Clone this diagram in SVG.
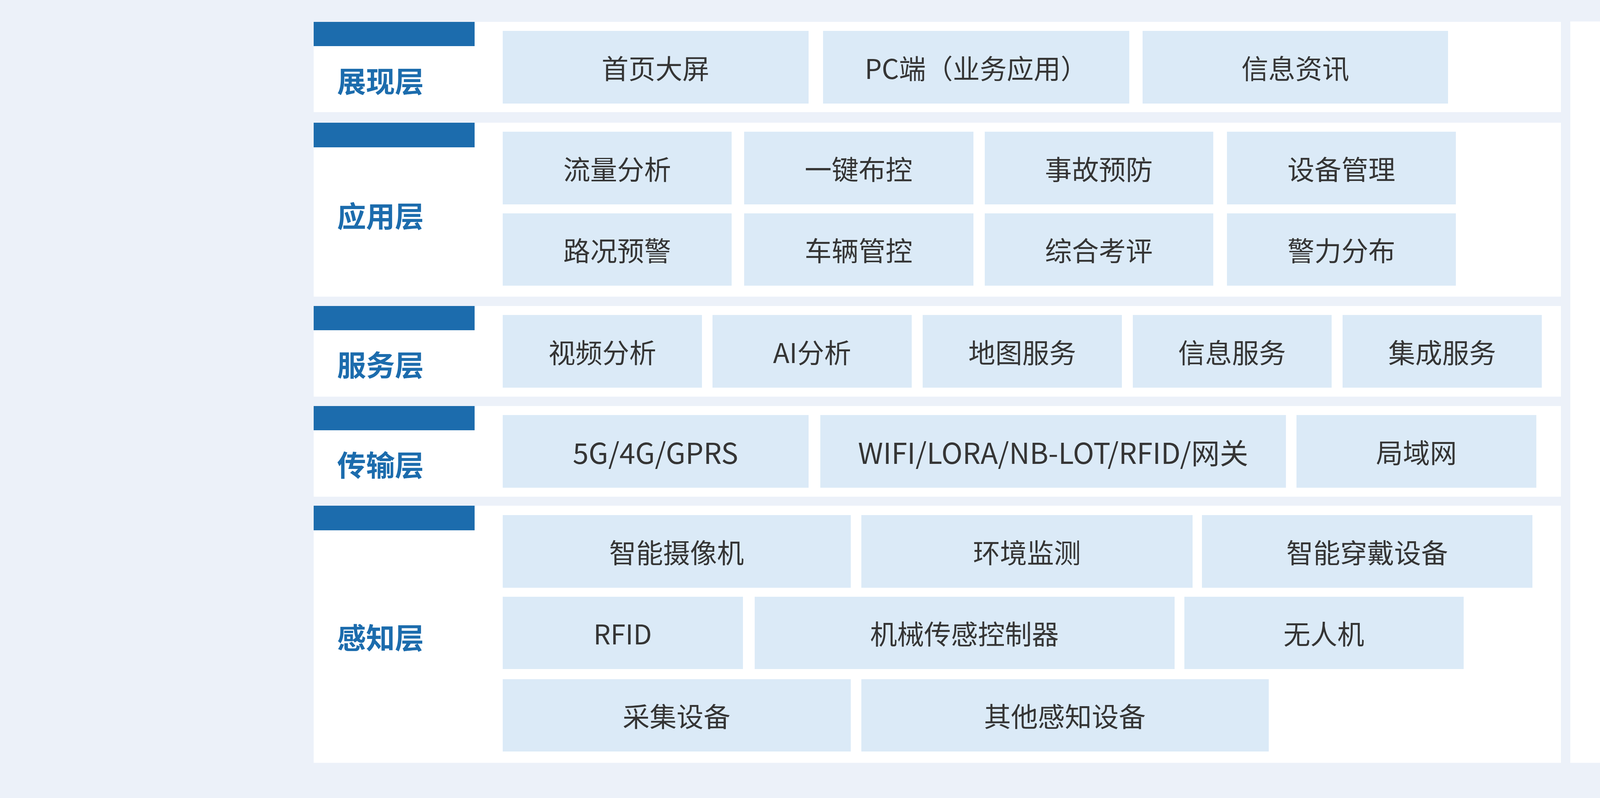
<svg xmlns="http://www.w3.org/2000/svg" width="5000" height="2042" viewBox="0 0 5000 2042">
<style>
.bg{fill:#ecf1f9}
.panel{fill:#ffffff}
.bar{fill:#1c6cad}
.box{fill:#dbeaf7}
.t{font-family:"Noto Sans CJK SC","Noto Sans",sans-serif;font-size:69px;fill:#353535;text-anchor:middle;dominant-baseline:central}
.w{font-size:73px}
.lab{font-family:"Noto Sans CJK SC","Noto Sans",sans-serif;font-size:74px;font-weight:bold;fill:#1c6cad;text-anchor:middle;dominant-baseline:central}
.side{font-family:"Noto Sans CJK SC","Noto Sans",sans-serif;font-size:62px;font-weight:bold;fill:#1c6cad;text-anchor:middle;dominant-baseline:central}
</style>
<rect class="bg" x="0" y="0" width="5000" height="2042"/>

<g id="layer-presentation">
<rect class="panel" x="803" y="56" width="3193" height="231"/>
<rect class="bar" x="803" y="56" width="412" height="62"/>
<text class="lab" x="974" y="203">展现层</text>
<g id="n-shouye"><rect class="box" x="1287" y="79" width="783" height="186"/><text class="t" x="1678" y="172">首页大屏</text></g>
<g id="n-pc"><rect class="box" x="2107" y="79" width="784" height="186"/><text class="t" x="2499" y="172">PC端（业务应用）</text></g>
<g id="n-xinxizixun"><rect class="box" x="2925" y="79" width="782" height="186"/><text class="t" x="3316" y="172">信息资讯</text></g>
</g>

<g id="layer-application">
<rect class="panel" x="803" y="314" width="3193" height="445"/>
<rect class="bar" x="803" y="314" width="412" height="63"/>
<text class="lab" x="974" y="548">应用层</text>
<g id="n-liuliang"><rect class="box" x="1287" y="337" width="586" height="186"/><text class="t" x="1580" y="430">流量分析</text></g>
<g id="n-yijian"><rect class="box" x="1905" y="337" width="587" height="186"/><text class="t" x="2198" y="430">一键布控</text></g>
<g id="n-shigu"><rect class="box" x="2521" y="337" width="585" height="186"/><text class="t" x="2813" y="430">事故预防</text></g>
<g id="n-shebei"><rect class="box" x="3141" y="337" width="586" height="186"/><text class="t" x="3434" y="430">设备管理</text></g>
<g id="n-lukuang"><rect class="box" x="1287" y="546" width="586" height="185"/><text class="t" x="1580" y="638">路况预警</text></g>
<g id="n-cheliang"><rect class="box" x="1905" y="546" width="587" height="185"/><text class="t" x="2198" y="638">车辆管控</text></g>
<g id="n-zonghe"><rect class="box" x="2521" y="546" width="585" height="185"/><text class="t" x="2813" y="638">综合考评</text></g>
<g id="n-jingli"><rect class="box" x="3141" y="546" width="586" height="185"/><text class="t" x="3434" y="638">警力分布</text></g>
</g>

<g id="layer-service">
<rect class="panel" x="803" y="783" width="3193" height="232"/>
<rect class="bar" x="803" y="783" width="412" height="62"/>
<text class="lab" x="974" y="929">服务层</text>
<g id="n-shipin"><rect class="box" x="1287" y="806" width="510" height="186"/><text class="t" x="1542" y="899">视频分析</text></g>
<g id="n-ai"><rect class="box" x="1824" y="806" width="510" height="186"/><text class="t" x="2079" y="899">AI分析</text></g>
<g id="n-ditu"><rect class="box" x="2362" y="806" width="510" height="186"/><text class="t" x="2617" y="899">地图服务</text></g>
<g id="n-xinxifuwu"><rect class="box" x="2900" y="806" width="509" height="186"/><text class="t" x="3154" y="899">信息服务</text></g>
<g id="n-jicheng"><rect class="box" x="3437" y="806" width="510" height="186"/><text class="t" x="3692" y="899">集成服务</text></g>
</g>

<g id="layer-transport">
<rect class="panel" x="803" y="1039" width="3193" height="232"/>
<rect class="bar" x="803" y="1039" width="412" height="62"/>
<text class="lab" x="974" y="1185">传输层</text>
<g id="n-5g"><rect class="box" x="1287" y="1062" width="783" height="186"/><text class="t w" x="1678" y="1155">5G/4G/GPRS</text></g>
<g id="n-wifi"><rect class="box" x="2100" y="1062" width="1192" height="186"/><text class="t w" x="2696" y="1155">WIFI/LORA/NB-LOT/RFID/网关</text></g>
<g id="n-lan"><rect class="box" x="3319" y="1062" width="614" height="186"/><text class="t" x="3626" y="1155">局域网</text></g>
</g>

<g id="layer-perception">
<rect class="panel" x="803" y="1294" width="3193" height="658"/>
<rect class="bar" x="803" y="1294" width="412" height="63"/>
<text class="lab" x="974" y="1627">感知层</text>
<g id="n-camera"><rect class="box" x="1287" y="1318" width="891" height="186"/><text class="t" x="1732" y="1411">智能摄像机</text></g>
<g id="n-env"><rect class="box" x="2205" y="1318" width="848" height="186"/><text class="t" x="2629" y="1411">环境监测</text></g>
<g id="n-wear"><rect class="box" x="3077" y="1318" width="846" height="186"/><text class="t" x="3500" y="1411">智能穿戴设备</text></g>
<g id="n-rfid"><rect class="box" x="1287" y="1527" width="615" height="185"/><text class="t" x="1594" y="1619">RFID</text></g>
<g id="n-mech"><rect class="box" x="1932" y="1527" width="1075" height="185"/><text class="t" x="2469" y="1619">机械传感控制器</text></g>
<g id="n-uav"><rect class="box" x="3032" y="1527" width="715" height="185"/><text class="t" x="3389" y="1619">无人机</text></g>
<g id="n-collect"><rect class="box" x="1287" y="1738" width="891" height="185"/><text class="t" x="1732" y="1830">采集设备</text></g>
<g id="n-other"><rect class="box" x="2205" y="1738" width="1043" height="185"/><text class="t" x="2726" y="1830">其他感知设备</text></g>
</g>

<g id="side-panel">
<rect class="panel" x="4020" y="55" width="312" height="1897"/>
<text class="side" x="4175" y="156">标</text>
<text class="side" x="4175" y="255">准</text>
<text class="side" x="4175" y="354">规</text>
<text class="side" x="4175" y="453">范</text>
<text class="side" x="4175" y="552">体</text>
<text class="side" x="4175" y="651">系</text>
<text class="side" x="4175" y="848">信</text>
<text class="side" x="4175" y="947">息</text>
<text class="side" x="4175" y="1046">安</text>
<text class="side" x="4175" y="1145">全</text>
<text class="side" x="4175" y="1244">体</text>
<text class="side" x="4175" y="1343">系</text>
<text class="side" x="4175" y="1540">运</text>
<text class="side" x="4175" y="1639">维</text>
<text class="side" x="4175" y="1738">运</text>
<text class="side" x="4175" y="1837">营</text>
</g>

<g id="connectors"></g>
</svg>
